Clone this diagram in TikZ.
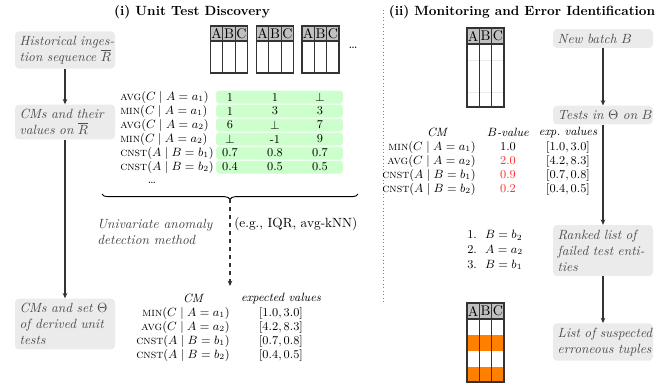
\documentclass[tikz,border=0pt]{standalone}
\usetikzlibrary{arrows.meta,decorations.pathreplacing}
\definecolor{boxgray}{HTML}{EBEBEB}
\definecolor{hdrgray}{HTML}{C0C0C0}
\definecolor{rowgreen}{HTML}{CCFFCC}
\definecolor{errred}{HTML}{FF2A2A}
\definecolor{errorange}{HTML}{FF8000}
\definecolor{linegray}{HTML}{333333}
\newcommand\abctab[4]{% x, ytop, ybottom, header height
  \fill[hdrgray] (#1,#2) rectangle (#1+37,#2+#4);
  \draw[tabline] (#1,#2) rectangle (#1+37,#3);
  \draw[tabline] (#1+12.33,#2) -- (#1+12.33,#3) (#1+24.67,#2) -- (#1+24.67,#3);
  \draw[tabline] (#1,#2+#4) -- (#1+37,#2+#4);
  \node[hdrtxt] at (#1+6.17,#2+#4/2) {A};
  \node[hdrtxt] at (#1+18.5,#2+#4/2) {B};
  \node[hdrtxt] at (#1+30.83,#2+#4/2) {C};
}
\tikzset{
  stepbox/.style={fill=boxgray, rounded corners=3pt, inner sep=3.5pt, text width=68pt,
    align=left, font=\itshape, text=black!70, minimum width=75pt},
  tabline/.style={draw=linegray, line width=0.8pt},
  hdrtxt/.style={inner sep=0pt, font=\fontsize{10.5}{12}\selectfont},
  flow/.style={draw=linegray, line width=0.8pt, -{Stealth[length=4pt,width=3.5pt]}},
  lbl/.style={inner sep=0pt, anchor=east, font=\small},
  lbll/.style={inner sep=0pt, anchor=west, font=\small},
  val/.style={inner sep=0pt, font=\small},
  greenbar/.style={fill=rowgreen, rounded corners=2.5pt},
  hd/.style={inner sep=0pt, font=\small\itshape},
}
\begin{document}
\begin{tikzpicture}[x=0.75pt,y=-0.75pt]
\useasboundingbox (0,0) rectangle (664,383);

% titles
\node[font=\bfseries] (t1) at (192,12) {(i) Unit Test Discovery};
\node[font=\bfseries] (t2) at (522,12) {(ii) Monitoring and Error Identification};

% divider
\draw[gray, dotted, line width=0.6pt] (383,10) -- (383,303);

% left boxes
\node[stepbox, minimum height=27pt] (hist) at (65,50) {\mbox{Historical inges-}\\\mbox{tion sequence $\overline{R}$}};
\node[stepbox, minimum height=25.5pt] (cms) at (65,122) {\mbox{CMs and their}\\\mbox{values on $\overline{R}$}};
\node[stepbox, minimum height=36pt] (set) at (65,324) {\mbox{CMs and set $\Theta$}\\\mbox{of derived unit}\\\mbox{tests}};
\draw[flow] (hist) -- (cms);
\draw[flow] (cms) -- (set);

% top tables
\abctab{210.5}{26}{73}{15}
\abctab{256.5}{26}{73}{15}
\abctab{302}{26}{73}{15}
\node[inner sep=0pt] (tdots) at (353,48) {\dots};

% CM value rows
\foreach \y/\l/\a/\b/\c in {
  97/{\textsc{avg}$(C\mid A=a_1)$}/1/1/$\bot$,
  111/{\textsc{min}$(C\mid A=a_1)$}/1/3/3,
  125/{\textsc{avg}$(C\mid A=a_2)$}/6/$\bot$/7,
  139/{\textsc{min}$(C\mid A=a_2)$}/$\bot$/-1/9,
  153/{\textsc{cnst}$(A\mid B=b_1)$}/0.7/0.8/0.7,
  167/{\textsc{cnst}$(A\mid B=b_2)$}/0.4/0.5/0.5}{
  \fill[greenbar] (216,\y-6.5) rectangle (343,\y+6.5);
  \node[lbll] at (120,\y) {\l};
  \node[val] at (230,\y) {\a};
  \node[val] at (275,\y) {\b};
  \node[val] at (320,\y) {\c};
}
\node[val] (rdots) at (152,183) {\dots};

% brace and dashed arrow
\coordinate (bl) at (102,194);
\coordinate (br) at (358,194);
\draw[line width=0.7pt, decorate, decoration={brace, mirror, amplitude=4pt}] (bl) -- (br);
\coordinate (btip) at (230,199);
\coordinate (dend) at (230,286);
\draw[flow, dashed] (btip) -- (dend);
\node[anchor=west, align=left, font=\itshape, text=black!75, inner sep=0pt] (uad) at (97,232) {Univariate anomaly\\detection method};
\node[anchor=west, inner sep=0pt] (eg) at (234,224) {(e.g., IQR, avg-kNN)};

% bottom-left expected values table
\node[hd] (hcm) at (193,298) {CM};
\node[hd] (hev) at (281,298) {expected values};
\foreach \y/\l/\v in {
  313/{\textsc{min}$(C\mid A=a_1)$}/{$[1.0,3.0]$},
  327/{\textsc{avg}$(C\mid A=a_2)$}/{$[4.2,8.3]$},
  341/{\textsc{cnst}$(A\mid B=b_1)$}/{$[0.7,0.8]$},
  355/{\textsc{cnst}$(A\mid B=b_2)$}/{$[0.4,0.5]$}}{
  \node[lbl] at (230,\y) {\l};
  \node[val] at (281,\y) {\v};
}

% right side
\draw[black!8, line width=0.5pt] (467,60) -- (504,60) (467,92) -- (504,92);
\abctab{467}{28}{107}{16}
\node[stepbox, minimum height=12.75pt] (nb) at (603,38.5) {New batch $B$};
\node[stepbox, minimum height=12pt] (tests) at (603,115) {\mbox{Tests in $\Theta$ on $B$}};
\node[stepbox, minimum height=35pt] (rank) at (603,250.5) {\mbox{Ranked list of}\\\mbox{failed test enti-}\\\mbox{ties}};
\node[stepbox, minimum height=25.5pt] (sus) at (603,342) {\mbox{List of suspected}\\\mbox{erroneous tuples}};
\draw[flow] (nb) -- (tests);
\draw[flow] (tests) -- (rank);
\draw[flow] (rank) -- (sus);

\node[hd] (rcm) at (437,132) {CM};
\node[hd] (rbv) at (508,132) {$B$-value};
\node[hd] (rev) at (568,132) {exp.\ values};
\foreach \y/\l/\b/\col/\v in {
  147/{\textsc{min}$(C\mid A=a_1)$}/1.0/black/{$[1.0,3.0]$},
  161/{\textsc{avg}$(C\mid A=a_2)$}/2.0/errred/{$[4.2,8.3]$},
  175/{\textsc{cnst}$(A\mid B=b_1)$}/0.9/errred/{$[0.7,0.8]$},
  189/{\textsc{cnst}$(A\mid B=b_2)$}/0.2/errred/{$[0.4,0.5]$}}{
  \node[lbl] at (476,\y) {\l};
  \node[val, text=\col] at (508,\y) {\b};
  \node[val] at (568,\y) {\v};
}

\node[anchor=west, align=left, inner sep=0pt, font=\small] (rl) at (467,250) {1.\ \ $B=b_2$\\2.\ \ $A=a_2$\\3.\ \ $B=b_1$};

% bottom right table with erroneous rows
\fill[errorange] (467,335) rectangle (504,350.5);
\fill[errorange] (467,366.5) rectangle (504,382);
\abctab{467}{303}{382}{16}
\end{tikzpicture}
\end{document}
